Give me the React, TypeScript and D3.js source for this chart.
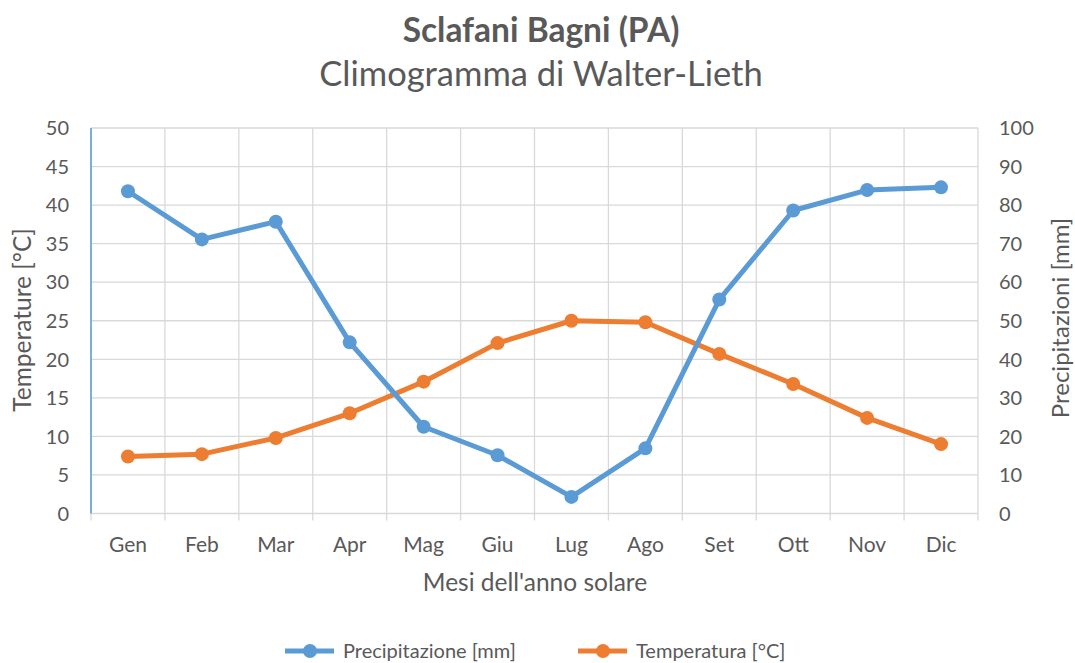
import { useEffect, useRef } from "react";
import * as d3 from "d3";

const months = ["Gen", "Feb", "Mar", "Apr", "Mag", "Giu", "Lug", "Ago", "Set", "Ott", "Nov", "Dic"];
const precipitation = [83.6, 71.1, 75.7, 44.4, 22.5, 15.1, 4.3, 16.9, 55.5, 78.6, 83.9, 84.6];
const temperature = [7.4, 7.7, 9.8, 13.0, 17.1, 22.1, 25.0, 24.8, 20.7, 16.8, 12.4, 9.0];
const tempTicks = [0, 5, 10, 15, 20, 25, 30, 35, 40, 45, 50];
const precTicks = [0, 10, 20, 30, 40, 50, 60, 70, 80, 90, 100];

const BLUE = "#5B9BD5";
const ORANGE = "#ED7D31";
const GRID = "#D9D9D9";
const TEXT = "#595959";
const FONT = "Lato, 'Open Sans', sans-serif";

const App = () => {
    const chartRef = useRef<SVGSVGElement | null>(null);

    useEffect(() => {
        if (!chartRef.current) return;
        d3.select(chartRef.current).selectAll("*").remove();

        const width = 1075;
        const height = 663;
        const margin = { top: 128, right: 97, bottom: 150, left: 91 };

        const svg = d3.select(chartRef.current).attr("width", width).attr("height", height);

        const x = d3.scaleBand().domain(months).range([margin.left, width - margin.right]);
        const yT = d3.scaleLinear().domain([0, 50]).range([height - margin.bottom + 0.5, margin.top]);
        const yP = d3.scaleLinear().domain([0, 100]).range([height - margin.bottom + 0.5, margin.top]);
        const bottom = yT(0);

        // Horizontal gridlines
        svg.append("g")
            .selectAll("line")
            .data(tempTicks)
            .enter()
            .append("line")
            .attr("x1", margin.left)
            .attr("x2", width - margin.right)
            .attr("y1", (d) => yT(d))
            .attr("y2", (d) => yT(d))
            .attr("stroke", GRID)
            .attr("stroke-width", 1.3);

        // Vertical gridlines at category boundaries
        const bounds = months.map((m) => x(m)!).concat([width - margin.right]);
        svg.append("g")
            .selectAll("line")
            .data(bounds)
            .enter()
            .append("line")
            .attr("x1", (d) => d)
            .attr("x2", (d) => d)
            .attr("y1", margin.top)
            .attr("y2", bottom + 7)
            .attr("stroke", GRID)
            .attr("stroke-width", 1.3);

        // Left axis line
        svg.append("line")
            .attr("x1", margin.left)
            .attr("x2", margin.left)
            .attr("y1", margin.top)
            .attr("y2", bottom)
            .attr("stroke", BLUE)
            .attr("stroke-width", 1.5);

        // Left tick labels
        svg.append("g")
            .selectAll("text")
            .data(tempTicks)
            .enter()
            .append("text")
            .attr("x", 69)
            .attr("y", (d) => yT(d))
            .attr("dy", "0.36em")
            .attr("text-anchor", "end")
            .attr("font-family", FONT)
            .attr("font-size", 20)
            .attr("fill", TEXT)
            .text((d) => d);

        // Right tick labels
        svg.append("g")
            .selectAll("text")
            .data(precTicks)
            .enter()
            .append("text")
            .attr("x", 999)
            .attr("y", (d) => yP(d))
            .attr("dy", "0.36em")
            .attr("text-anchor", "start")
            .attr("font-family", FONT)
            .attr("font-size", 20)
            .attr("fill", TEXT)
            .text((d) => d);

        // Month labels
        svg.append("g")
            .selectAll("text")
            .data(months)
            .enter()
            .append("text")
            .attr("x", (d) => x(d)! + x.bandwidth() / 2)
            .attr("y", 544)
            .attr("dy", "0.36em")
            .attr("text-anchor", "middle")
            .attr("font-family", FONT)
            .attr("font-size", 21)
            .attr("fill", TEXT)
            .text((d) => d);

        // Axis titles
        svg.append("text")
            .attr("transform", "translate(22,320) rotate(-90)")
            .attr("dy", "0.36em")
            .attr("text-anchor", "middle")
            .attr("font-family", FONT)
            .attr("font-size", 24.5)
            .attr("fill", TEXT)
            .text("Temperature [°C]");

        svg.append("text")
            .attr("transform", "translate(1060,318) rotate(-90)")
            .attr("dy", "0.36em")
            .attr("text-anchor", "middle")
            .attr("font-family", FONT)
            .attr("font-size", 24)
            .attr("fill", TEXT)
            .text("Precipitazioni [mm]");

        svg.append("text")
            .attr("x", 535)
            .attr("y", 582)
            .attr("dy", "0.36em")
            .attr("text-anchor", "middle")
            .attr("font-family", FONT)
            .attr("font-size", 24.5)
            .attr("fill", TEXT)
            .text("Mesi dell'anno solare");

        // Titles
        svg.append("text")
            .attr("x", 541)
            .attr("y", 30)
            .attr("dy", "0.36em")
            .attr("text-anchor", "middle")
            .attr("font-family", FONT)
            .attr("font-weight", "bold")
            .attr("font-size", 33.5)
            .attr("fill", TEXT)
            .text("Sclafani Bagni (PA)");

        svg.append("text")
            .attr("x", 541)
            .attr("y", 74)
            .attr("dy", "0.36em")
            .attr("text-anchor", "middle")
            .attr("font-family", FONT)
            .attr("font-size", 34.5)
            .attr("fill", TEXT)
            .text("Climogramma di Walter-Lieth");

        // Series
        const cx = (i: number) => x(months[i])! + x.bandwidth() / 2;
        const series = [
            { values: temperature, scale: yT, color: ORANGE },
            { values: precipitation, scale: yP, color: BLUE },
        ];
        series.forEach((s) => {
            const line = d3
                .line<number>()
                .x((_, i) => cx(i))
                .y((d) => s.scale(d));
            svg.append("path")
                .datum(s.values)
                .attr("d", line)
                .attr("fill", "none")
                .attr("stroke", s.color)
                .attr("stroke-width", 5)
                .attr("stroke-linejoin", "round")
                .attr("stroke-linecap", "round");
            svg.append("g")
                .selectAll("circle")
                .data(s.values)
                .enter()
                .append("circle")
                .attr("cx", (_, i) => cx(i))
                .attr("cy", (d) => s.scale(d))
                .attr("r", 7)
                .attr("fill", s.color);
        });

        // Legend
        const legend = [
            { label: "Precipitazione [mm]", color: BLUE, x: 285 },
            { label: "Temperatura [°C]", color: ORANGE, x: 578 },
        ];
        const ly = 651;
        const lg = svg.append("g").selectAll("g").data(legend).enter().append("g");
        lg.append("line")
            .attr("x1", (d) => d.x)
            .attr("x2", (d) => d.x + 49)
            .attr("y1", ly)
            .attr("y2", ly)
            .attr("stroke", (d) => d.color)
            .attr("stroke-width", 5);
        lg.append("circle")
            .attr("cx", (d) => d.x + 25)
            .attr("cy", ly)
            .attr("r", 7)
            .attr("fill", (d) => d.color);
        lg.append("text")
            .attr("x", (d) => d.x + 58)
            .attr("y", ly)
            .attr("dy", "0.36em")
            .attr("font-family", FONT)
            .attr("font-size", 20)
            .attr("fill", TEXT)
            .text((d) => d.label);
    }, []);

    return (
        <div style={{ position: "absolute", left: 0, top: 0, background: "#fff" }}>
            <svg ref={chartRef} style={{ display: "block" }}></svg>
        </div>
    );
};

export default App;
